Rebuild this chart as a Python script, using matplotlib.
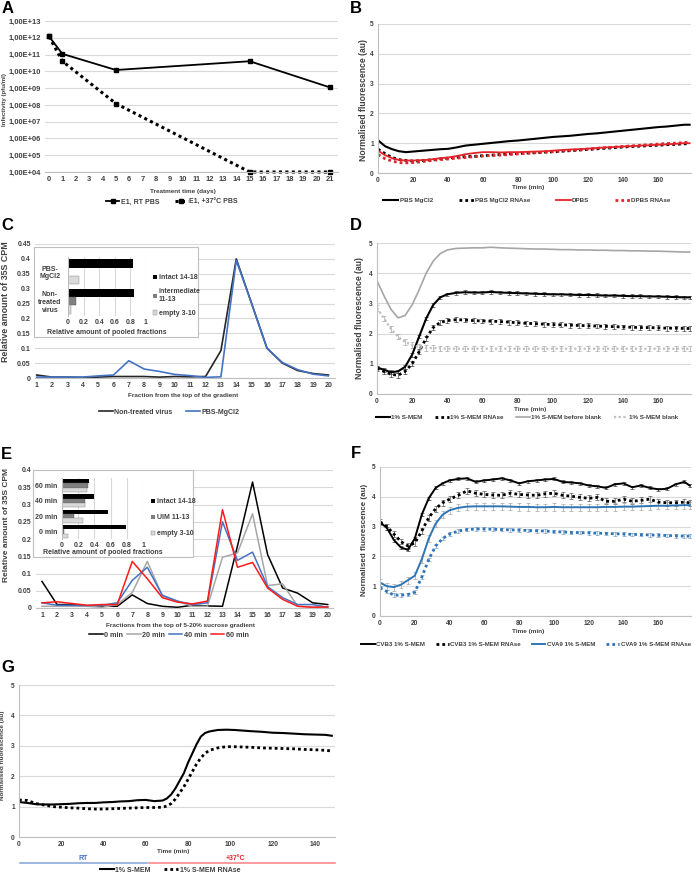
import math
import matplotlib.pyplot as plt
from matplotlib.lines import Line2D
from matplotlib.patches import Rectangle, Patch
from matplotlib.ticker import FixedLocator, FuncFormatter

plt.rcParams['font.family'] = ['Liberation Sans', 'DejaVu Sans']
plt.rcParams['font.weight'] = 'bold'

# ---------------- data ----------------
# A: infectivity (pfu/ml)
a_days = [0, 1, 5, 15, 21]
a_rt = [1.2e12, 1.1e11, 1.2e10, 4.0e10, 1.1e9]
a_37 = [1.2e12, 4.0e10, 1.2e8, 1.0e4, 1.0e4]
a_ticks = list(range(22))

# common time grid for B, D, F (min)
t_fl = [0, 4, 8, 12, 16, 20, 24, 28, 32, 36, 40, 45, 50, 55, 60, 65, 70, 75, 80,
        85, 90, 95, 100, 105, 110, 115, 120, 125, 130, 135, 140, 145, 150, 155,
        160, 165, 170, 175, 178]

# B
b_pbs = [1.1, 0.9, 0.8, 0.73, 0.7, 0.72, 0.74, 0.76, 0.78, 0.8, 0.81, 0.86, 0.92,
         0.95, 0.98, 1.01, 1.04, 1.07, 1.09, 1.12, 1.15, 1.18, 1.21, 1.23, 1.25,
         1.28, 1.31, 1.33, 1.36, 1.39, 1.42, 1.45, 1.48, 1.51, 1.54, 1.56, 1.59,
         1.62, 1.62]
b_pbs_rn = [0.8, 0.65, 0.52, 0.45, 0.42, 0.4, 0.41, 0.43, 0.45, 0.48, 0.5, 0.53,
            0.55, 0.56, 0.58, 0.6, 0.62, 0.64, 0.66, 0.67, 0.68, 0.7, 0.71, 0.73,
            0.75, 0.77, 0.79, 0.81, 0.83, 0.85, 0.87, 0.89, 0.9, 0.92, 0.93, 0.95,
            0.96, 0.98, 0.98]
b_dpbs = [0.75, 0.6, 0.5, 0.44, 0.42, 0.42, 0.43, 0.44, 0.47, 0.5, 0.52, 0.57,
          0.63, 0.67, 0.7, 0.7, 0.69, 0.7, 0.7, 0.71, 0.72, 0.73, 0.75, 0.77, 0.79,
          0.8, 0.82, 0.84, 0.86, 0.87, 0.89, 0.9, 0.92, 0.93, 0.95, 0.96, 0.98,
          1.0, 1.0]
b_dpbs_rn = [0.62, 0.48, 0.4, 0.35, 0.34, 0.35, 0.37, 0.4, 0.43, 0.45, 0.47, 0.5,
             0.52, 0.55, 0.57, 0.59, 0.6, 0.62, 0.64, 0.66, 0.68, 0.7, 0.72, 0.74,
             0.76, 0.78, 0.8, 0.83, 0.85, 0.87, 0.89, 0.91, 0.93, 0.95, 0.97, 0.99,
             1.0, 1.02, 1.03]

# C: sucrose gradient
fractions = list(range(1, 21))
c_nontreated = [0.01, 0.003, 0.003, 0.002, 0.003, 0.005, 0.005, 0.005, 0.003, 0.005,
                0.004, 0.005, 0.092, 0.40, 0.25, 0.10, 0.05, 0.025, 0.015, 0.01]
c_pbs = [0.003, 0.003, 0.003, 0.003, 0.007, 0.01, 0.058, 0.03, 0.022, 0.012,
         0.008, 0.002, 0.004, 0.395, 0.25, 0.10, 0.052, 0.028, 0.013, 0.007]
c_groups = ['Non-\ntreated\nvirus', 'PBS-\nMgCl2']
c_intact = [0.84, 0.83]
c_inter = [0.10, 0.005]
c_empty = [0.035, 0.14]

# D
d_smem = [0.88, 0.8, 0.72, 0.75, 0.9, 1.3, 1.9, 2.5, 2.95, 3.2, 3.3, 3.35, 3.37,
          3.36, 3.36, 3.38, 3.36, 3.35, 3.34, 3.33, 3.32, 3.31, 3.3, 3.3, 3.29,
          3.28, 3.28, 3.27, 3.26, 3.26, 3.25, 3.24, 3.24, 3.23, 3.23, 3.22, 3.21,
          3.2, 3.2]
d_smem_rn = [0.85, 0.75, 0.65, 0.62, 0.75, 1.0, 1.4, 1.85, 2.2, 2.37, 2.43, 2.46,
             2.45, 2.43, 2.42, 2.41, 2.4, 2.38, 2.36, 2.34, 2.33, 2.31, 2.3, 2.29,
             2.28, 2.27, 2.26, 2.25, 2.24, 2.23, 2.22, 2.21, 2.2, 2.2, 2.19, 2.18,
             2.18, 2.17, 2.17]
d_before = [3.75, 3.25, 2.8, 2.52, 2.6, 2.95, 3.45, 4.0, 4.4, 4.65, 4.77, 4.82,
            4.83, 4.84, 4.84, 4.86, 4.84, 4.83, 4.82, 4.81, 4.8, 4.8, 4.79, 4.78,
            4.78, 4.77, 4.77, 4.76, 4.76, 4.75, 4.75, 4.74, 4.74, 4.73, 4.73, 4.72,
            4.71, 4.7, 4.7]
d_blank = [2.85, 2.5, 2.15, 1.9, 1.72, 1.62, 1.56, 1.53, 1.52, 1.51, 1.5, 1.5,
           1.5, 1.5, 1.5, 1.5, 1.5, 1.5, 1.5, 1.5, 1.5, 1.5, 1.5, 1.5, 1.5, 1.5,
           1.5, 1.5, 1.5, 1.5, 1.5, 1.5, 1.5, 1.5, 1.5, 1.5, 1.5, 1.5, 1.5]
d_err_smem = 0.06
d_err_rn = 0.08
d_err_blank = 0.09

# E: gradient over time
e_0 = [0.077, 0.01, 0.01, 0.005, 0.005, 0.005, 0.038, 0.013, 0.005, 0.002,
       0.008, 0.006, 0.005, 0.18, 0.365, 0.155, 0.058, 0.043, 0.015, 0.01]
e_20 = [0.005, 0.005, 0.005, 0.005, 0.002, 0.01, 0.045, 0.135, 0.035, 0.02,
        0.005, 0.005, 0.147, 0.16, 0.273, 0.065, 0.07, 0.005, 0.003, 0.003]
e_40 = [0.015, 0.008, 0.008, 0.007, 0.008, 0.015, 0.08, 0.118, 0.037, 0.02,
        0.01, 0.015, 0.25, 0.138, 0.162, 0.062, 0.03, 0.01, 0.01, 0.002]
e_60 = [0.015, 0.018, 0.013, 0.008, 0.01, 0.01, 0.135, 0.085, 0.03, 0.017,
        0.012, 0.02, 0.285, 0.118, 0.132, 0.058, 0.025, 0.005, 0.002, 0.003]
e_groups = ['0 min', '20 min', '40 min', '60 min']
e_intact = [0.79, 0.57, 0.39, 0.33]
e_uim = [0.02, 0.15, 0.28, 0.32]
e_empty = [0.08, 0.26, 0.29, 0.31]

# F
f_cvb3 = [3.15, 2.95, 2.55, 2.3, 2.22, 2.6, 3.4, 3.95, 4.3, 4.45, 4.55, 4.6, 4.62,
          4.5, 4.55, 4.58, 4.62, 4.55, 4.45, 4.52, 4.55, 4.58, 4.6, 4.5, 4.48,
          4.45, 4.38, 4.35, 4.3, 4.42, 4.45, 4.32, 4.38, 4.3, 4.25, 4.27, 4.42,
          4.5, 4.38]
f_cvb3_rn = [3.15, 3.0, 2.75, 2.5, 2.35, 2.45, 2.85, 3.3, 3.6, 3.8, 3.92, 4.05,
             4.2, 4.12, 4.08, 4.06, 4.05, 4.12, 4.08, 4.06, 4.05, 4.1, 4.12, 4.05,
             4.02, 3.98, 3.95, 3.98, 3.85, 3.85, 3.92, 3.85, 3.88, 3.92, 3.82, 3.8,
             3.8, 3.82, 3.8]
f_cva9 = [1.12, 1.0, 0.97, 1.05, 1.2, 1.35, 1.9, 2.6, 3.1, 3.4, 3.55, 3.63, 3.67,
          3.68, 3.68, 3.68, 3.68, 3.67, 3.66, 3.66, 3.65, 3.65, 3.66, 3.65, 3.65,
          3.65, 3.65, 3.65, 3.66, 3.66, 3.67, 3.67, 3.68, 3.69, 3.7, 3.7, 3.71,
          3.72, 3.72]
f_cva9_rn = [0.95, 0.82, 0.7, 0.7, 0.72, 0.8, 1.3, 1.9, 2.35, 2.6, 2.75, 2.85, 2.9,
             2.92, 2.92, 2.91, 2.9, 2.89, 2.88, 2.87, 2.86, 2.85, 2.83, 2.82, 2.8,
             2.8, 2.79, 2.78, 2.77, 2.76, 2.75, 2.74, 2.73, 2.72, 2.71, 2.7, 2.69,
             2.68, 2.68]
f_err_cvb3 = 0.05
f_err_cvb3_rn = 0.1
f_err_cva9 = 0.12
f_err_cva9_rn = 0.06

# G
t_g = [0, 4, 8, 12, 16, 20, 24, 28, 32, 36, 40, 44, 48, 52, 56, 60, 64, 68, 70, 72,
       74, 76, 78, 80, 82, 84, 86, 88, 90, 94, 98, 102, 106, 110, 115, 120, 125,
       130, 135, 140, 145, 148]
g_smem = [1.15, 1.12, 1.08, 1.07, 1.07, 1.08, 1.09, 1.11, 1.12, 1.12, 1.14, 1.15,
          1.17, 1.18, 1.21, 1.22, 1.18, 1.2, 1.27, 1.4, 1.6, 1.85, 2.1, 2.45, 2.75,
          3.05, 3.3, 3.42, 3.47, 3.52, 3.53, 3.52, 3.5, 3.48, 3.46, 3.43, 3.42,
          3.4, 3.38, 3.37, 3.36, 3.33]
g_smem_rn = [1.22, 1.2, 1.1, 1.05, 1.0, 0.98, 0.96, 0.95, 0.93, 0.92, 0.92, 0.93,
             0.94, 0.95, 0.96, 0.97, 0.97, 0.98, 1.02, 1.1, 1.25, 1.45, 1.65, 1.9,
             2.15, 2.4, 2.6, 2.75, 2.85, 2.93, 2.97, 2.97, 2.96, 2.95, 2.93, 2.92,
             2.91, 2.9, 2.88, 2.87, 2.85, 2.83]

# ---------------- style ----------------
TXT = '#404040'
GRID = '#d9d9d9'
AXIS = '#bfbfbf'
BLUE = '#4472c4'
RED = '#e3242b'
W, H = 696, 874


def fx(x):
    return x / W


def fy(y):
    return 1 - y / H


def rect(x0, y0, x1, y1):
    return [fx(x0), fy(y1), (x1 - x0) / W, (y1 - y0) / H]


DOT = (0, (1, 1.1))

fig = plt.figure(figsize=(6.96, 8.74), dpi=100)


def base_axes(r, fs=5, left_spine=False):
    ax = fig.add_axes(r)
    for s in ['top', 'right']:
        ax.spines[s].set_visible(False)
    ax.spines['left'].set_visible(left_spine)
    ax.spines['left'].set_color(AXIS)
    ax.spines['bottom'].set_color(AXIS)
    ax.spines['left'].set_linewidth(0.8)
    ax.spines['bottom'].set_linewidth(0.8)
    ax.grid(axis='y', color=GRID, lw=0.8)
    ax.set_axisbelow(True)
    ax.tick_params(length=0, labelsize=fs, colors=TXT, pad=3)
    return ax


def fluor_axes(r, xmax):
    ax = base_axes(r, fs=4.8, left_spine=True)
    ax.set_ylim(0, 5)
    ax.set_yticks([0, 1, 2, 3, 4, 5])
    ax.set_xlim(0, xmax)
    ax.set_xticks(range(0, int(xmax), 20))
    return ax


def panel_label(s, x, y):
    fig.text(fx(x), fy(y), s, fontsize=12, fontweight='bold', color='black',
             ha='left', va='top')


def xlab(s, x, y, fs=4.6):
    fig.text(fx(x), fy(y), s, fontsize=fs, color=TXT, ha='center', va='center')


def ylab(s, x, y, fs=6.0):
    fig.text(fx(x), fy(y), s, fontsize=fs, color=TXT, ha='center', va='center',
             rotation=90)


def legend(handles, labels, x, y, **kw):
    opts = dict(ncol=len(labels), frameon=False, fontsize=5, handlelength=2.0,
                columnspacing=1.6, handletextpad=0.2)
    opts.update(kw)
    leg = fig.legend(handles, labels, loc='center', bbox_to_anchor=(fx(x), fy(y)),
                     **opts)
    for t in leg.get_texts():
        t.set_color(TXT)
    return leg


def pct_fmt(v, p):
    return '%g' % round(v, 2)


# ---------------- A ----------------
panel_label('A', 2, 1)
axA = base_axes(rect(45, 21, 338, 172), fs=5.4)
axA.set_yscale('log')
axA.set_ylim(1e4, 1e13)
axA.yaxis.set_major_locator(FixedLocator([10.0 ** k for k in range(4, 14)]))
axA.yaxis.set_minor_locator(FixedLocator([]))
axA.yaxis.set_major_formatter(FuncFormatter(lambda v, p: '1,00E+%02d' % round(math.log10(v))))
axA.set_xlim(-0.3, 21.6)
axA.set_xticks(a_ticks)
lA1, = axA.plot(a_days, a_rt, color='black', lw=1.3, marker='s', ms=3, clip_on=False)
lA2, = axA.plot(a_days, a_37, color='black', lw=2.2, ls=DOT, marker='s', ms=3.5,
                clip_on=False)
xlab('Treatment time (days)', 183, 192, fs=4.6)
ylab('Infectivity (pfu/ml)', 5, 100, fs=4.4)
legend([lA1, lA2], ['E1, RT PBS', 'E1, +37°C PBS'], 172, 202, handlelength=1.9,
       columnspacing=2.2)

# ---------------- B ----------------
panel_label('B', 350, 1)
axB = fluor_axes(rect(378, 24, 691, 173), 178.8)
lB1, = axB.plot(t_fl, b_pbs, color='black', lw=1.5)
lB2, = axB.plot(t_fl, b_pbs_rn, color='black', lw=2, ls=DOT)
lB3, = axB.plot(t_fl, b_dpbs, color=RED, lw=1.3)
lB4, = axB.plot(t_fl, b_dpbs_rn, color=RED, lw=2, ls=DOT)
xlab('Time (min)', 528, 188)
ylab('Normalised fluorescence (au)', 363, 100, fs=6.2)
legend([lB1, lB2, lB3, lB4], ['PBS MgCl2', 'PBS MgCl2 RNAse', 'DPBS', 'DPBS RNAse'],
       527, 200, fontsize=4.5, handlelength=2.4, columnspacing=4.1)

# ---------------- C ----------------
panel_label('C', 1, 218)
axC = base_axes(rect(35, 244, 335, 378))
axC.set_ylim(0, 0.45)
axC.set_yticks([0, 0.05, 0.1, 0.15, 0.2, 0.25, 0.3, 0.35, 0.4, 0.45])
axC.yaxis.set_major_formatter(FuncFormatter(pct_fmt))
axC.set_xlim(0.89, 20.43)
axC.set_xticks(fractions)
lC1, = axC.plot(fractions, c_nontreated, color='#262626', lw=1.2)
lC2, = axC.plot(fractions, c_pbs, color=BLUE, lw=1.2)
xlab('Fraction from the top of the gradient', 183, 396)
ylab('Relative amount of 35S CPM', 6, 302, fs=6.4)
legend([lC1, lC2], ['Non-treated virus', 'PBS-MgCl2'], 169, 412, columnspacing=2.0)

# inset C
fig.add_artist(Rectangle((fx(34), fy(337)), 164 / W, 90 / H, transform=fig.transFigure,
                         facecolor='white', edgecolor=AXIS, lw=0.8, zorder=1))
axCi = fig.add_axes(rect(68, 257, 146, 316))
axCi.set_zorder(3)
axCi.patch.set_alpha(0)
bh = 0.28
yc = [0, 1]
axCi.barh([y + bh for y in yc], c_intact, height=bh, color='black')
axCi.barh(yc, c_inter, height=bh, color='#7f7f7f', edgecolor='#595959', lw=0.3)
axCi.barh([y - bh for y in yc], c_empty, height=bh, color='#d9d9d9', edgecolor='#7f7f7f',
          lw=0.3)
axCi.set_ylim(-0.5, 1.5)
axCi.set_xlim(0, 1)
axCi.set_xticks([0, 0.2, 0.4, 0.6, 0.8, 1])
axCi.xaxis.set_major_formatter(FuncFormatter(pct_fmt))
axCi.set_yticks(yc)
axCi.set_yticklabels(c_groups, ha='center', linespacing=1.1)
axCi.grid(axis='x', color=GRID, lw=0.8)
axCi.set_axisbelow(True)
for s in ['top', 'right', 'bottom']:
    axCi.spines[s].set_visible(False)
axCi.spines['left'].set_color(AXIS)
axCi.tick_params(length=0, labelsize=5, colors=TXT)
axCi.tick_params(axis='y', pad=13)
axCi.tick_params(axis='x', pad=2)
xlab('Relative amount of pooled fractions', 107, 332, fs=5)
pC = [Patch(facecolor='black'), Patch(facecolor='#7f7f7f'),
      Patch(facecolor='#d9d9d9', edgecolor='#7f7f7f', lw=0.3)]
legC = fig.legend(pC, ['intact 14-18', 'intermediate\n11-13', 'empty 3-10'],
                  loc='upper left', bbox_to_anchor=(fx(147), fy(268)), frameon=False,
                  fontsize=5, handlelength=0.6, handleheight=0.6, handletextpad=0.2,
                  labelspacing=1.0)
legC.set_zorder(5)
for t in legC.get_texts():
    t.set_color(TXT)

# ---------------- D ----------------
panel_label('D', 350, 218)
axD = fluor_axes(rect(377, 243, 691, 394), 178.8)
axD.errorbar(t_fl, d_blank, yerr=d_err_blank, fmt='none', ecolor='#a6a6a6', elinewidth=0.5,
             capsize=1.2, capthick=0.5)
axD.errorbar(t_fl, d_smem, yerr=d_err_smem, fmt='none', ecolor='#404040', elinewidth=0.5,
             capsize=1.2, capthick=0.5)
axD.errorbar(t_fl, d_smem_rn, yerr=d_err_rn, fmt='none', ecolor='#404040', elinewidth=0.5,
             capsize=1.2, capthick=0.5)
lD1, = axD.plot(t_fl, d_smem, color='black', lw=1.5)
lD2, = axD.plot(t_fl, d_smem_rn, color='black', lw=2, ls=DOT)
lD3, = axD.plot(t_fl, d_before, color='#a6a6a6', lw=1.2)
lD4, = axD.plot(t_fl, d_blank, color='#bfbfbf', lw=1.6, ls=DOT)
xlab('Time (min)', 530, 410)
ylab('Normalised fluorescence (au)', 360, 318, fs=6.2)
legend([lD1, lD2, lD3, lD4], ['1% S-MEM', '1% S-MEM RNAse', '1% S-MEM before blank',
                              '1% S-MEM blank'], 527, 417, fontsize=4.5,
       handlelength=2.2, columnspacing=2.0)

# ---------------- E ----------------
panel_label('E', 1, 447)
axE = base_axes(rect(36, 470, 333, 608))
axE.set_ylim(0, 0.4)
axE.set_yticks([0, 0.05, 0.1, 0.15, 0.2, 0.25, 0.3, 0.35, 0.4])
axE.yaxis.set_major_formatter(FuncFormatter(pct_fmt))
axE.set_xlim(0.6, 20.35)
axE.set_xticks(fractions)
lE1, = axE.plot(fractions, e_0, color='black', lw=1.1)
lE2, = axE.plot(fractions, e_20, color='#a6a6a6', lw=1.1)
lE3, = axE.plot(fractions, e_40, color=BLUE, lw=1.1)
lE4, = axE.plot(fractions, e_60, color='#ff1a1a', lw=1.1)
xlab('Fractions from the top of 5-20% sucrose gradient', 180, 625)
ylab('Relative amount of 35S CPM', 7, 525, fs=6.0)
legend([lE1, lE2, lE3, lE4], ['0 min', '20 min', '40 min', '60 min'], 169, 635,
       fontsize=5.2, handlelength=1.9, columnspacing=0.5)

# inset E
fig.add_artist(Rectangle((fx(33), fy(557)), 160 / W, 87 / H, transform=fig.transFigure,
                         facecolor='white', edgecolor=AXIS, lw=0.8, zorder=1))
axEi = fig.add_axes(rect(62, 478, 143, 539))
axEi.set_zorder(3)
axEi.patch.set_alpha(0)
ye = [0, 1, 2, 3]
axEi.barh([y + bh for y in ye], e_intact, height=bh, color='black')
axEi.barh(ye, e_uim, height=bh, color='#7f7f7f', edgecolor='#595959', lw=0.3)
axEi.barh([y - bh for y in ye], e_empty, height=bh, color='#d9d9d9', edgecolor='#7f7f7f',
          lw=0.3)
axEi.set_ylim(-0.5, 3.5)
axEi.set_xlim(0, 1)
axEi.set_xticks([0, 0.2, 0.4, 0.6, 0.8, 1])
axEi.xaxis.set_major_formatter(FuncFormatter(pct_fmt))
axEi.set_yticks(ye)
axEi.set_yticklabels(e_groups)
axEi.grid(axis='x', color=GRID, lw=0.8)
axEi.set_axisbelow(True)
for s in ['top', 'right', 'bottom']:
    axEi.spines[s].set_visible(False)
axEi.spines['left'].set_color(AXIS)
axEi.tick_params(length=0, labelsize=5, colors=TXT)
axEi.tick_params(axis='x', pad=2)
xlab('Relative amount of pooled fractions', 103, 553, fs=5)
pE = [Patch(facecolor='black'), Patch(facecolor='#7f7f7f'),
      Patch(facecolor='#d9d9d9', edgecolor='#7f7f7f', lw=0.3)]
legE = fig.legend(pE, ['intact 14-18', 'UIM 11-13', 'empty 3-10'],
                  loc='upper left', bbox_to_anchor=(fx(145), fy(492)), frameon=False,
                  fontsize=5, handlelength=0.6, handleheight=0.6, handletextpad=0.2,
                  labelspacing=1.3)
legE.set_zorder(5)
for t in legE.get_texts():
    t.set_color(TXT)

# ---------------- F ----------------
panel_label('F', 351, 446)
axF = fluor_axes(rect(380, 467, 691, 616), 178.8)
F_BLUE = '#2e75b6'
axF.errorbar(t_fl, f_cvb3, yerr=f_err_cvb3, fmt='none', ecolor='#404040', elinewidth=0.5,
             capsize=1.2, capthick=0.5)
axF.errorbar(t_fl, f_cvb3_rn, yerr=f_err_cvb3_rn, fmt='none', ecolor='#595959',
             elinewidth=0.5, capsize=1.2, capthick=0.5)
axF.errorbar(t_fl, f_cva9, yerr=f_err_cva9, fmt='none', ecolor='#a6a6a6', elinewidth=0.5,
             capsize=1.2, capthick=0.5)
axF.errorbar(t_fl, f_cva9_rn, yerr=f_err_cva9_rn, fmt='none', ecolor='#7f9fcf',
             elinewidth=0.5, capsize=1.2, capthick=0.5)
lF1, = axF.plot(t_fl, f_cvb3, color='black', lw=1.4)
lF2, = axF.plot(t_fl, f_cvb3_rn, color='black', lw=2, ls=DOT)
lF3, = axF.plot(t_fl, f_cva9, color=F_BLUE, lw=1.4)
lF4, = axF.plot(t_fl, f_cva9_rn, color=F_BLUE, lw=2, ls=DOT)
xlab('Time (min)', 528, 632)
ylab('Normalised fluorescence (au)', 365, 540, fs=5.8)
legend([lF1, lF2, lF3, lF4], ['CVB3 1% S-MEM', 'CVB3 1% S-MEM RNAse', 'CVA9 1% S-MEM',
                              'CVA9 1% S-MEM RNAse'], 526, 644, fontsize=4.4,
       handlelength=2.2, columnspacing=1.8)

# ---------------- G ----------------
panel_label('G', 1, 660)
axG = fluor_axes(rect(19, 685, 335, 837), 149.5)
lG1, = axG.plot(t_g, g_smem, color='black', lw=1.5)
lG2, = axG.plot(t_g, g_smem_rn, color='black', lw=2, ls=DOT)
xlab('Time (min)', 173, 852)
ylab('Normalised fluorescence (au)', 3, 755, fs=4.6)
fig.add_artist(Line2D([fx(20), fx(147)], [fy(863), fy(863)], color='#8eaadb', lw=1.2,
                      transform=fig.transFigure))
fig.add_artist(Line2D([fx(149), fx(335)], [fy(863), fy(863)], color='#ff8a8e', lw=1.2,
                      transform=fig.transFigure))
fig.text(fx(83), fy(858), 'RT', fontsize=5, color=BLUE, ha='center', va='center')
fig.text(fx(235), fy(858), '+37°C', fontsize=5, color=RED, ha='center', va='center')
legend([lG1, lG2], ['1% S-MEM', '1% S-MEM RNAse'], 170, 870, columnspacing=2.0)

fig.savefig('out.png', dpi=100)
